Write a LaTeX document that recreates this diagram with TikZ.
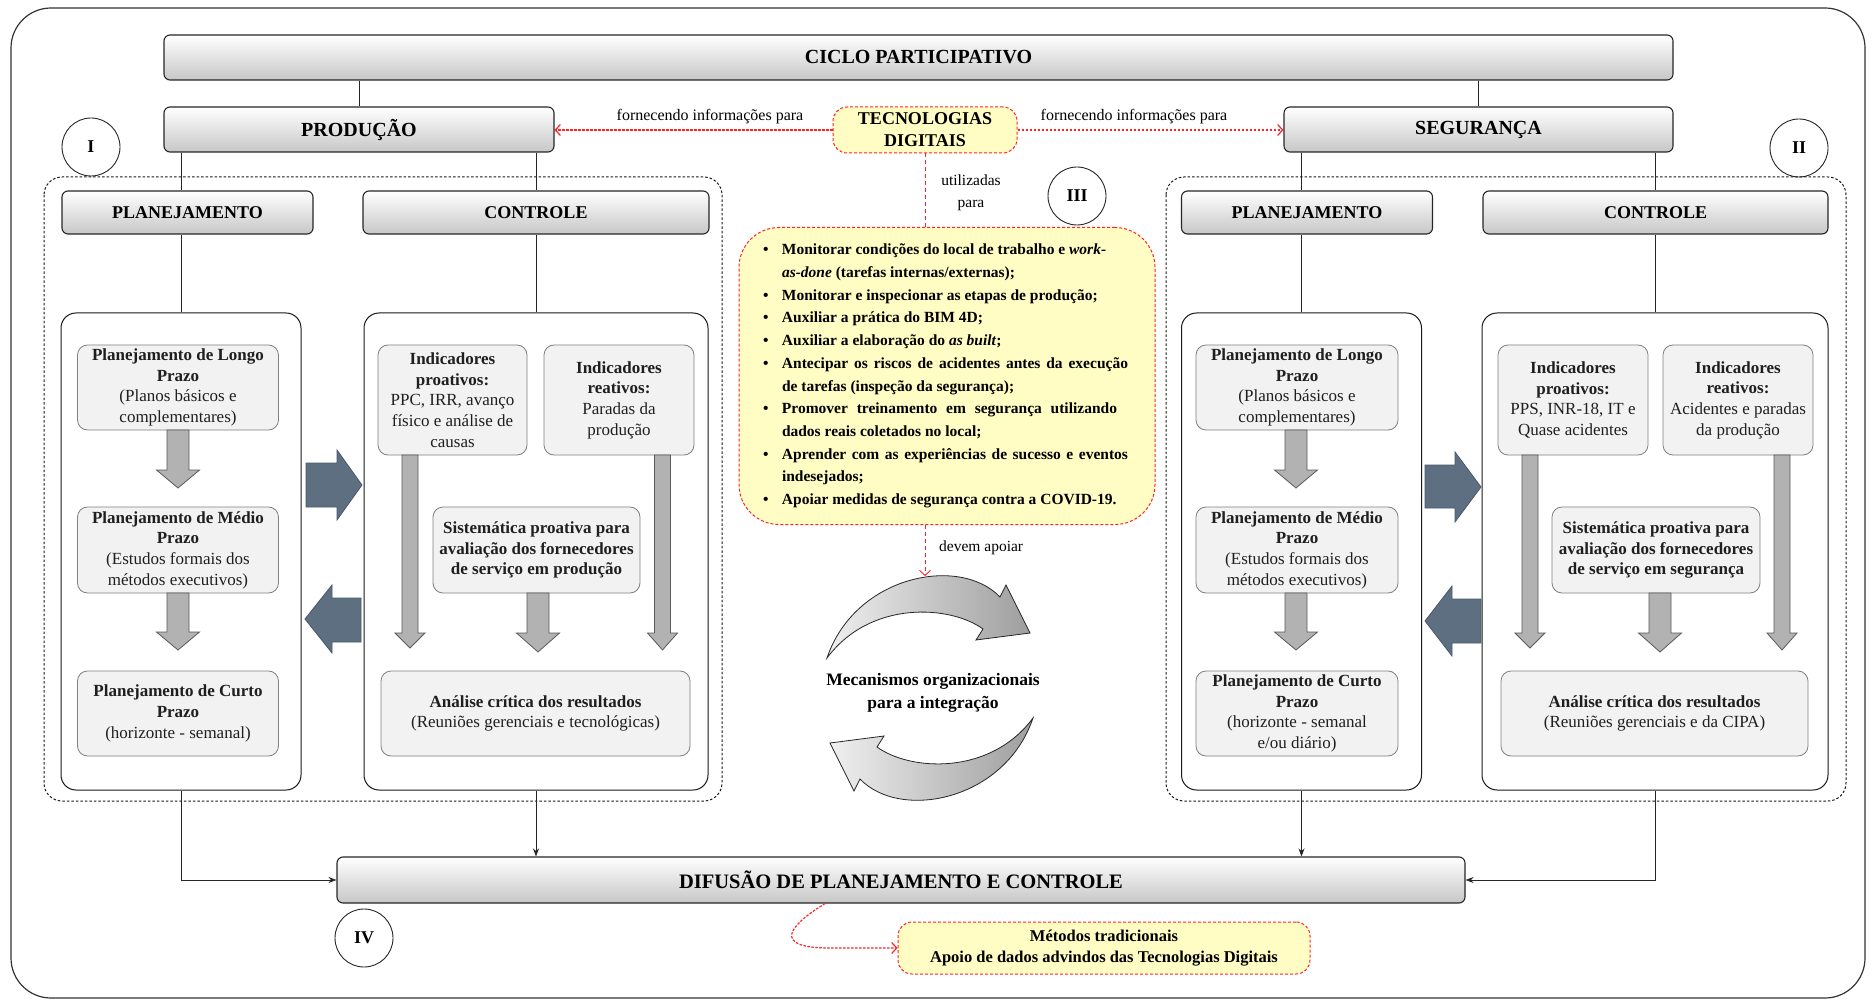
\documentclass[tikz,border=0pt]{standalone}
\usepackage{fontspec}
\setmainfont{Liberation Serif}
\usetikzlibrary{arrows.meta,calc}

\definecolor{tdyellow}{HTML}{FFFCC4}
\definecolor{tdred}{HTML}{FF2424}
\definecolor{slatefill}{HTML}{5E6F82}
\definecolor{slateline}{HTML}{4A596A}
\definecolor{panelfill}{HTML}{F2F2F2}
\definecolor{panelline}{HTML}{808080}
\definecolor{arrowfill}{HTML}{B2B2B2}
\definecolor{arrowline}{HTML}{5A5A5A}

% one bullet line of the list, and a continuation line
\newcommand{\tdline}[1]{\makebox[19pt][l]{\textbullet}#1}
\newcommand{\tdcont}[1]{\hspace*{19pt}#1}

% gray block arrow pointing down: x, top, head start, tip, half shaft, half head
\newcommand{\blockdown}[6]{%
  \filldraw[garrow] (#1-#5,#2) -- (#1-#5,#3) -- (#1-#6,#3) -- (#1,#4)
    -- (#1+#6,#3) -- (#1+#5,#3) -- (#1+#5,#2) -- cycle;}

\tikzset{
  hdr/.style={draw=black!85, line width=1.1pt, rounded corners=6pt,
    top color=white, bottom color=black!22, inner sep=0pt,
    font=\fontsize{20}{24}\selectfont\bfseries},
  subhdr/.style={hdr, font=\fontsize{18}{22}\selectfont\bfseries},
  wbox/.style={draw=black!90, line width=1pt, rounded corners=15pt, fill=white, inner sep=0pt},
  panel/.style={draw=panelline, line width=0.8pt, fill=panelfill, rounded corners=10pt,
    inner sep=0pt, align=center, text=black!88,
    font=\fontsize{17}{20.7}\selectfont},
  grp/.style={draw=black!90, line width=1pt, dash pattern=on 2.5pt off 2pt, rounded corners=18pt},
  tdbox/.style={draw=tdred, fill=tdyellow, line width=1pt, dash pattern=on 3pt off 2pt,
    inner sep=0pt},
  reddot/.style={draw=tdred, line width=1.2pt, dash pattern=on 2.5pt off 1.5pt},
  reddash/.style={draw=tdred, line width=0.9pt, dash pattern=on 4pt off 3pt},
  redtip/.style={-{Straight Barb[length=5pt,width=11pt]}},
  garrow/.style={fill=arrowfill, draw=arrowline, line width=0.8pt},
  darrow/.style={fill=slatefill, draw=slateline, line width=0.8pt},
  circ/.style={circle, draw=black!85, line width=0.9pt, minimum size=58pt, inner sep=0pt,
    font=\fontsize{18}{20}\selectfont\bfseries},
  lbl/.style={inner sep=0pt, font=\fontsize{16}{22}\selectfont, align=center},
  conn/.style={draw=black!85, line width=0.8pt},
  connarr/.style={conn, -{Stealth[length=8pt,width=6pt]}},
  crescent/.style={left color=black!6, right color=black!38, draw=black!85, line width=0.8pt},
}

\begin{document}
\begin{tikzpicture}[x=1pt,y=-1pt]
\useasboundingbox (0,0) rectangle (1872,1000);

% frame of the whole scheme
\draw[black!80, line width=1.2pt, rounded corners=40pt] (11,8) rectangle (1865,998);

% dashed groups of production and safety
\draw[grp] (44,177) rectangle (722,801);
\draw[grp] (1166,177) rectangle (1846,801);

% top level
\node[hdr, minimum width=1509pt, minimum height=45pt] (ciclo) at (918.5,57.5) {CICLO PARTICIPATIVO};
\node[hdr, minimum width=390pt, minimum height=45pt] (prod) at (359,129.5) {PRODUÇÃO};
\node[hdr, minimum width=389pt, minimum height=45pt] (seg) at (1478.5,129.5) {SEGURANÇA};
\draw[conn] (ciclo.south -| prod.north) -- (prod.north);
\draw[conn] (ciclo.south -| seg.north) -- (seg.north);

\node[tdbox, rounded corners=14pt, minimum width=184pt, minimum height=46pt, align=center,
  font=\fontsize{18}{22}\selectfont\bfseries] (tec) at (925,130) {TECNOLOGIAS\\DIGITAIS};

% column headers
\node[subhdr, minimum width=251pt, minimum height=43pt] (planL) at (187.5,212.5) {PLANEJAMENTO};
\node[subhdr, minimum width=346pt, minimum height=43pt] (ctrlL) at (536,212.5) {CONTROLE};
\node[subhdr, minimum width=251pt, minimum height=43pt] (planR) at (1307,212.5) {PLANEJAMENTO};
\node[subhdr, minimum width=345pt, minimum height=43pt] (ctrlR) at (1655.5,212.5) {CONTROLE};

% white containers
\node[wbox, minimum width=240pt, minimum height=477pt] (wpL) at (181,551.5) {};
\node[wbox, minimum width=344pt, minimum height=477pt] (wcL) at (536,551.5) {};
\node[wbox, minimum width=240pt, minimum height=477pt] (wpR) at (1301.5,551.5) {};
\node[wbox, minimum width=346pt, minimum height=477pt] (wcR) at (1655,551.5) {};

\draw[conn] (prod.south -| wpL.north) -- (planL.north -| wpL.north);
\draw[conn] (prod.south -| wcL.north) -- (ctrlL.north -| wcL.north);
\draw[conn] (planL.south -| wpL.north) -- (wpL.north);
\draw[conn] (ctrlL.south -| wcL.north) -- (wcL.north);
\draw[conn] (seg.south -| wpR.north) -- (planR.north -| wpR.north);
\draw[conn] (seg.south -| wcR.north) -- (ctrlR.north -| wcR.north);
\draw[conn] (planR.south -| wpR.north) -- (wpR.north);
\draw[conn] (ctrlR.south -| wcR.north) -- (wcR.north);

% production planning
\node[panel, minimum width=201pt, minimum height=85pt] (lpL) at (178,387.5)
  {\textbf{Planejamento de Longo}\\\textbf{Prazo}\\(Planos básicos e\\complementares)};
\node[panel, minimum width=201pt, minimum height=86pt] (mpL) at (178,550)
  {\textbf{Planejamento de Médio}\\\textbf{Prazo}\\(Estudos formais dos\\métodos executivos)};
\node[panel, minimum width=201pt, minimum height=85pt] (cpL) at (178,713.5)
  {\textbf{Planejamento de Curto}\\\textbf{Prazo}\\(horizonte - semanal)};

% production control
\node[panel, minimum width=149pt, minimum height=110pt] (ipL) at (452.5,400)
  {\textbf{Indicadores}\\\textbf{proativos:}\\PPC, IRR, avanço\\físico e análise de\\causas};
\node[panel, minimum width=150pt, minimum height=110pt] (irL) at (619,400)
  {\textbf{Indicadores}\\\textbf{reativos:}\\Paradas da\\produção};
\node[panel, minimum width=207pt, minimum height=86pt] (sisL) at (536.5,550)
  {\textbf{Sistemática proativa para}\\\textbf{avaliação dos fornecedores}\\\textbf{de serviço em produção}};
\node[panel, minimum width=309pt, minimum height=85pt] (anL) at (535.5,713.5)
  {\textbf{Análise crítica dos resultados}\\(Reuniões gerenciais e tecnológicas)};

% safety planning
\node[panel, minimum width=202pt, minimum height=85pt] (lpR) at (1297,387.5)
  {\textbf{Planejamento de Longo}\\\textbf{Prazo}\\(Planos básicos e\\complementares)};
\node[panel, minimum width=202pt, minimum height=86pt] (mpR) at (1297,550)
  {\textbf{Planejamento de Médio}\\\textbf{Prazo}\\(Estudos formais dos\\métodos executivos)};
\node[panel, minimum width=202pt, minimum height=85pt] (cpR) at (1297,713.5)
  {\textbf{Planejamento de Curto}\\\textbf{Prazo}\\(horizonte - semanal\\e/ou diário)};

% safety control
\node[panel, minimum width=150pt, minimum height=110pt] (ipR) at (1573,400)
  {\textbf{Indicadores}\\\textbf{proativos:}\\PPS, INR-18, IT e\\Quase acidentes};
\node[panel, minimum width=150pt, minimum height=110pt] (irR) at (1738,400)
  {\textbf{Indicadores}\\\textbf{reativos:}\\Acidentes e paradas\\da produção};
\node[panel, minimum width=208pt, minimum height=86pt] (sisR) at (1656,550)
  {\textbf{Sistemática proativa para}\\\textbf{avaliação dos fornecedores}\\\textbf{de serviço em segurança}};
\node[panel, minimum width=307pt, minimum height=85pt] (anR) at (1654.5,713.5)
  {\textbf{Análise crítica dos resultados}\\(Reuniões gerenciais e da CIPA)};

% gray block arrows inside the containers
\blockdown{178}{430}{470}{488}{11}{21.5}
\blockdown{178}{593}{632}{650}{11}{21.5}
\blockdown{410}{455}{633}{648}{8}{15}
\blockdown{538}{593}{633}{652}{11}{21.5}
\blockdown{662.5}{455}{633}{650}{8}{15}
\blockdown{1296}{430}{470}{488}{11}{21.5}
\blockdown{1296}{593}{632}{650}{11}{21.5}
\blockdown{1530}{455}{633}{648}{8}{15}
\blockdown{1660}{593}{633}{652}{11}{21.5}
\blockdown{1782}{455}{633}{650}{8}{15}

% planning <-> control exchange arrows
\filldraw[darrow] (306,463) -- (337,463) -- (337,450) -- (362,485) -- (337,520) -- (337,507) -- (306,507) -- cycle;
\filldraw[darrow] (361,598) -- (332,598) -- (332,585) -- (305,619) -- (332,653) -- (332,642) -- (361,642) -- cycle;
\filldraw[darrow] (1425,465) -- (1455,465) -- (1455,452) -- (1481,487) -- (1455,522) -- (1455,508) -- (1425,508) -- cycle;
\filldraw[darrow] (1481,599) -- (1452,599) -- (1452,586) -- (1425,621) -- (1452,656) -- (1452,643) -- (1481,643) -- cycle;

% digital technologies feeding both sides
\draw[reddot, redtip] (tec.west) -- (prod.east |- tec.west);
\draw[reddot, redtip] (tec.east) -- (seg.west |- tec.east);
\node[lbl] (fornL) at (710,117) {fornecendo informações para};
\node[lbl] (fornR) at (1134,117) {fornecendo informações para};

% list of uses
\node[tdbox, rounded corners=40pt, minimum width=416pt, minimum height=297pt] (uses) at (947,376)
  {\begin{minipage}{368pt}\fontsize{15.5}{22.7}\selectfont\bfseries
  \tdline{Monitorar condições do local de trabalho e \textit{work-}}\\
  \tdcont{\textit{as-done} (tarefas internas/externas);}\\
  \tdline{Monitorar e inspecionar as etapas de produção;}\\
  \tdline{Auxiliar a prática do BIM 4D;}\\
  \tdline{Auxiliar a elaboração do \textit{as built};}\\
  \tdline{\makebox[346pt][s]{Antecipar os riscos de acidentes antes da execução}}\\
  \tdcont{de tarefas (inspeção da segurança);}\\
  \tdline{\makebox[335pt][s]{Promover treinamento em segurança utilizando}}\\
  \tdcont{dados reais coletados no local;}\\
  \tdline{\makebox[346pt][s]{Aprender com as experiências de sucesso e eventos}}\\
  \tdcont{indesejados;}\\
  \tdline{Apoiar medidas de segurança contra a COVID-19.}
  \end{minipage}};
\draw[reddash] (tec.south) -- (tec.south |- uses.north);
\node[lbl, font=\fontsize{15.5}{22}\selectfont] (utl) at (971,193) {utilizadas\\para};

\coordinate (mecTop) at (925,576);
\draw[reddash, redtip] (tec.south |- uses.south) -- (mecTop);
\node[lbl, font=\fontsize{15.5}{20}\selectfont, anchor=west] (devem) at (939,548) {devem apoiar};

% integration cycle
\path[crescent] (827,658) .. controls (855,575) and (960,555) .. (1000,597)
  -- (1006,585) -- (1030,633) -- (976,640) -- (983,629)
  .. controls (950,605) and (870,600) .. (827,658) -- cycle;
\begin{scope}[rotate around={180:(930,688)}]
\path[crescent] (827,658) .. controls (855,575) and (960,555) .. (1000,597)
  -- (1006,585) -- (1030,633) -- (976,640) -- (983,629)
  .. controls (950,605) and (870,600) .. (827,658) -- cycle;
\end{scope}
\node[lbl, font=\fontsize{17.5}{23}\selectfont\bfseries] (mec) at (933,693)
  {Mecanismos organizacionais\\para a integração};

% diffusion
\node[hdr, font=\fontsize{20.5}{24}\selectfont\bfseries, minimum width=1128pt, minimum height=46pt] (dif) at (901,880)
  {DIFUSÃO DE PLANEJAMENTO E CONTROLE};
\draw[connarr] (wpL.south) |- (dif.west);
\draw[connarr] (wcL.south) -- (wcL.south |- dif.north);
\draw[connarr] (wpR.south) -- (wpR.south |- dif.north);
\draw[connarr] (wcR.south) |- (dif.east);

\node[tdbox, rounded corners=14pt, minimum width=412pt, minimum height=52pt, align=center,
  font=\fontsize{16.5}{20.5}\selectfont\bfseries] (met) at (1104,948)
  {Métodos tradicionais\\Apoio de dados advindos das Tecnologias Digitais};
\draw[reddot, redtip] ([xshift=-76pt]dif.south) .. controls (790,925) and (770,948) .. (830,948) -- (met.west);

% section markers
\node[circ] (cI) at (91,147) {I};
\node[circ] (cII) at (1799,148) {II};
\node[circ] (cIII) at (1077,196) {III};
\node[circ] (cIV) at (364,938) {IV};

\end{tikzpicture}
\end{document}
